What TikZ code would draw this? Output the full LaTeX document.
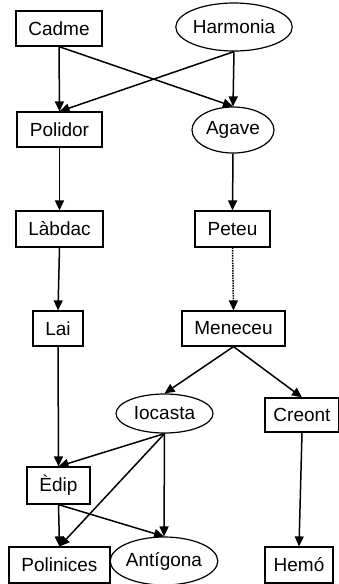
\documentclass[tikz,border=0pt]{standalone}
\usepackage{fontspec}
\setmainfont{Liberation Sans}
\usetikzlibrary{shapes.geometric,arrows.meta}
\begin{document}
\begin{tikzpicture}[x=1pt,y=-1pt,
  every node/.style={font=\fontsize{19}{22}\selectfont, inner sep=0pt, line width=1.2pt, draw},
  person/.style={rectangle},
  wife/.style={ellipse},
  link/.style={line width=1.5pt, -{Triangle[length=10pt,width=9pt]}},
  weak/.style={link, densely dotted}]
\useasboundingbox (0,0) rectangle (339,584);
% first generation
\node[person, minimum width=86pt, minimum height=35pt] (cadme) at (59,28.5) {Cadme};
\node[wife, minimum width=109pt, minimum height=48pt] (harmonia) at (234,27) {Harmonia};
% children
\node[person, minimum width=85pt, minimum height=35pt] (polidor) at (59.5,129.5) {Polidor};
\node[wife, minimum width=82pt, minimum height=46pt] (agave) at (233,130) {Agave};
\node[person, minimum width=87pt, minimum height=36pt] (labdac) at (59.5,229) {Làbdac};
\node[person, minimum width=75pt, minimum height=36pt] (peteu) at (232.5,229) {Peteu};
\node[person, minimum width=50pt, minimum height=35pt] (lai) at (58,328.5) {Lai};
\node[person, minimum width=103pt, minimum height=35pt] (meneceu) at (233.5,328.5) {Meneceu};
\node[wife, minimum width=97pt, minimum height=39pt] (iocasta) at (164.5,413.5) {Iocasta};
\node[person, minimum width=74pt, minimum height=34pt] (creont) at (302,415) {Creont};
\node[person, minimum width=63pt, minimum height=37pt] (edip) at (58.5,485.5) {Èdip};
\node[person, minimum width=101pt, minimum height=36pt] (polinices) at (59.5,565) {Polinices};
\node[wife, minimum width=98pt, minimum height=48pt] (antigona) at (164,561) {Antígona};
\node[person, minimum width=68pt, minimum height=36pt] (hemo) at (299,565) {Hemó};
% descent
\draw[link] (cadme.south) -- (polidor.north);
\draw[link] (cadme.south) -- (agave.north);
\draw[link] (harmonia.south) -- (polidor.north);
\draw[link] (harmonia.south) -- (agave.north);
\draw[link] (polidor.south) -- (labdac.north);
\draw[link] (agave.south) -- (peteu.north);
\draw[link] (labdac.south) -- (lai.north);
\draw[weak] (peteu.south) -- (meneceu.north);
\draw[link] (meneceu.south) -- (iocasta.north);
\draw[link] (meneceu.south) -- (creont.north);
\draw[link] (lai.south) -- (edip.north);
\draw[link] (iocasta.south) -- (edip.north);
\draw[link] (iocasta.south) -- (polinices.north);
\draw[link] (iocasta.south) -- (antigona.north);
\draw[link] (edip.south) -- (polinices.north);
\draw[link] (edip.south) -- (antigona.north);
\draw[link] (creont.south) -- (hemo.north);
\end{tikzpicture}
\end{document}
